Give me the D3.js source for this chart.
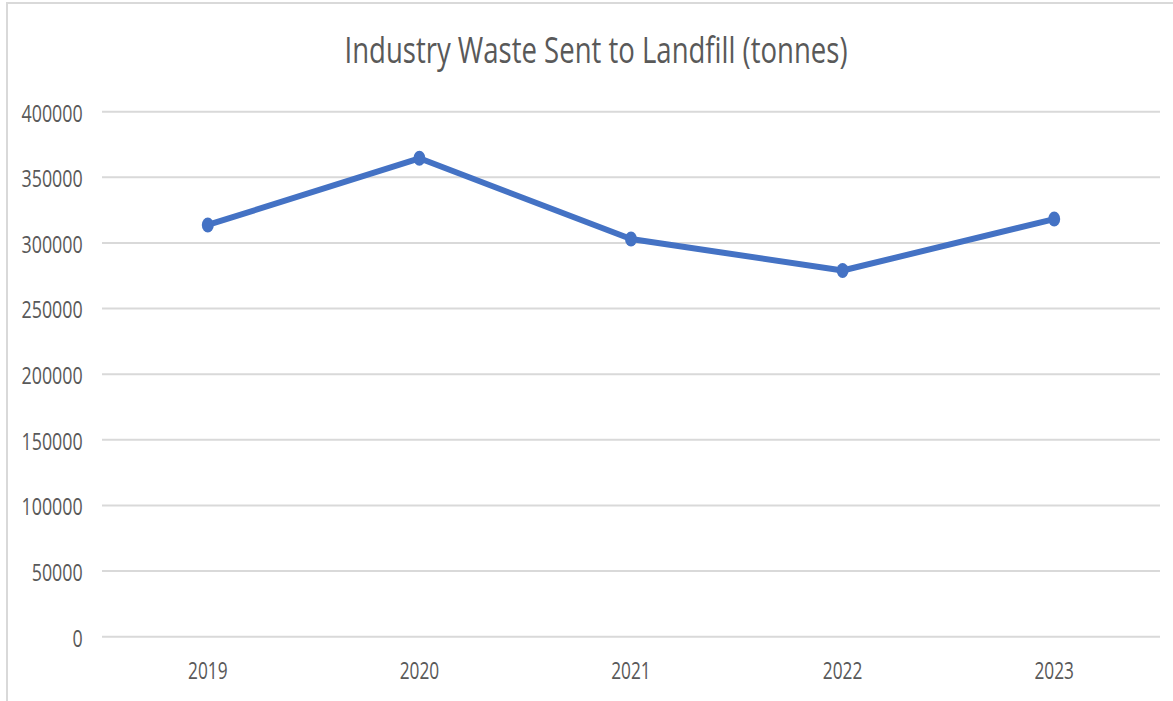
<!DOCTYPE html>
<html>
<head>
<meta charset="utf-8">
<script src="https://cdn.jsdelivr.net/npm/d3@7"></script>
<style>
    html, body { margin: 0; padding: 0; background: #fff; }
    svg { display: block; }
    text { font-family: "Open Sans", sans-serif; fill: #595959; }
</style>
</head>
<body>
<div id="chart-container"></div>
<script>
// Chart data
const years = ['2019', '2020', '2021', '2022', '2023'];
const wasteTonnes = [313700, 364500, 303000, 279000, 318200];
const yTicks = [0, 50000, 100000, 150000, 200000, 250000, 300000, 350000, 400000];
const chartTitle = 'Industry Waste Sent to Landfill (tonnes)';

const W = 1173, H = 701;
const margin = { top: 111.7, right: 13, bottom: 64.3, left: 102 };

const svg = d3.select('#chart-container')
    .append('svg')
        .attr('width', W)
        .attr('height', H);

// Chart area border (only left and top visible in the crop)
svg.append('rect')
    .attr('x', 7).attr('y', 3)
    .attr('width', W + 20).attr('height', H + 20)
    .attr('fill', 'none')
    .attr('stroke', '#d9d9d9')
    .attr('stroke-width', 2);

const x = d3.scaleBand()
    .domain(years)
    .range([margin.left, W - margin.right])
    .padding(0);

const y = d3.scaleLinear()
    .domain([0, 400000])
    .range([H - margin.bottom, margin.top]);

// Title
svg.append('text')
    .attr('x', 596)
    .attr('y', 63)
    .attr('text-anchor', 'middle')
    .attr('font-size', 36)
    .attr('textLength', 503)
    .attr('lengthAdjust', 'spacingAndGlyphs')
    .text(chartTitle);

// Gridlines
svg.append('g')
    .selectAll('line')
    .data(yTicks)
    .enter()
    .append('line')
        .attr('x1', margin.left)
        .attr('x2', W - margin.right)
        .attr('y1', d => y(d))
        .attr('y2', d => y(d))
        .attr('stroke', '#d9d9d9')
        .attr('stroke-width', 2);

// Y axis labels
const yAxis = svg.append('g')
    .attr('transform', `translate(${margin.left},0)`)
    .call(d3.axisLeft(y).tickValues(yTicks).tickSize(0).tickPadding(19.3).tickFormat(d3.format('d')));
yAxis.select('.domain').remove();
yAxis.selectAll('text')
    .attr('font-size', 24)
    .attr('font-family', '"Open Sans", sans-serif')
    .attr('fill', '#595959')
    .attr('dy', 9.3)
    .attr('textLength', d => String(d).length * 10.2)
    .attr('lengthAdjust', 'spacingAndGlyphs');

// X axis labels
const xAxis = svg.append('g')
    .attr('transform', `translate(0,${H - margin.bottom})`)
    .call(d3.axisBottom(x).tickSize(0));
xAxis.select('.domain').remove();
xAxis.selectAll('text')
    .attr('font-size', 23)
    .attr('font-family', '"Open Sans", sans-serif')
    .attr('fill', '#595959')
    .attr('y', 42.6)
    .attr('dy', 0)
    .attr('textLength', 39.5)
    .attr('lengthAdjust', 'spacingAndGlyphs');

const cx = d => x(d) + x.bandwidth() / 2;

// Line
const line = d3.line()
    .x((d, i) => cx(years[i]))
    .y(d => y(d));

svg.append('path')
    .datum(wasteTonnes)
    .attr('d', line)
    .attr('fill', 'none')
    .attr('stroke', '#4472c4')
    .attr('stroke-width', 6)
    .attr('stroke-linejoin', 'round');

// Markers
svg.selectAll('ellipse')
    .data(wasteTonnes)
    .enter()
    .append('ellipse')
        .attr('cx', (d, i) => cx(years[i]))
        .attr('cy', d => y(d))
        .attr('rx', 6)
        .attr('ry', 7.5)
        .attr('fill', '#4472c4');
</script>
</body>
</html>
